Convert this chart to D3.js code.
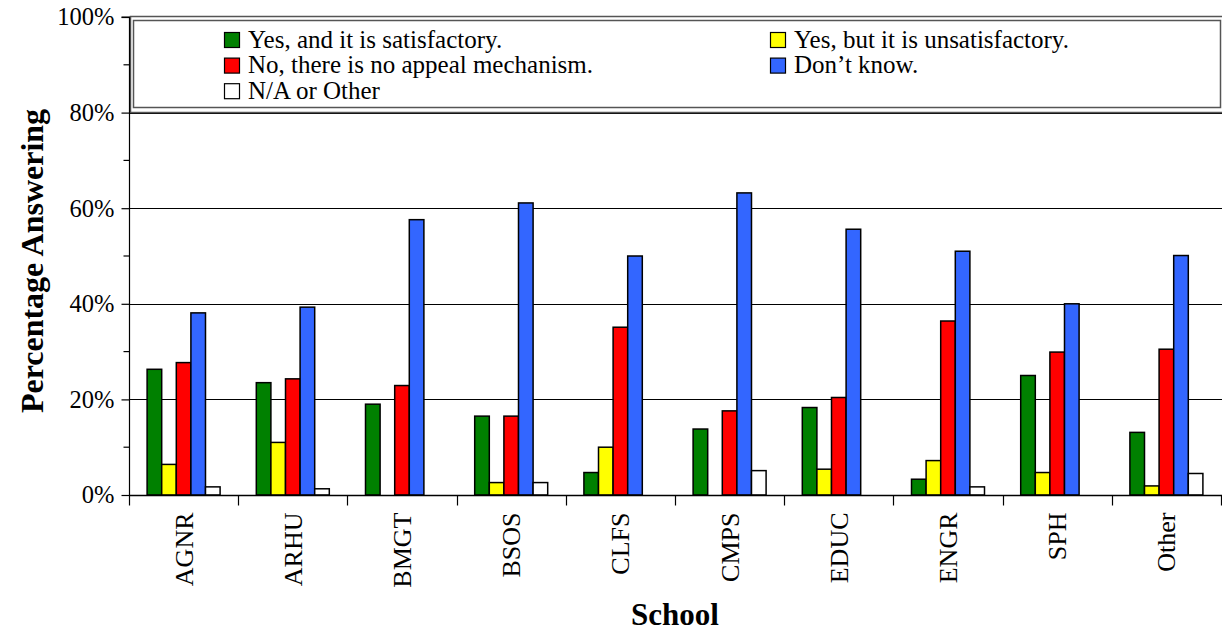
<!DOCTYPE html>
<html><head><meta charset="utf-8">
<script src="https://cdn.jsdelivr.net/npm/d3@7"></script>
<style>body{margin:0;background:#fff}svg{display:block}</style>
</head><body><svg id="c" width="1222" height="632"></svg>
<script>
const schools = ["AGNR","ARHU","BMGT","BSOS","CLFS","CMPS","EDUC","ENGR","SPH","Other"];
const seriesNames = ["Yes, and it is satisfactory.","Yes, but it is unsatisfactory.","No, there is no appeal mechanism.","Don\u2019t know.","N/A or Other"];
const seriesColors = ["#008000","#FFFF00","#FF0000","#3366FF","#FFFFFF"];
const yesSatisfactory   = [26.3,23.5,19.0,16.5, 4.7,13.8,18.3, 3.3,25.0,13.1];
const yesUnsatisfactory = [ 6.4,11.0, 0.0, 2.6,10.0, 0.0, 5.4, 7.2, 4.7, 1.9];
const noMechanism       = [27.7,24.3,22.9,16.5,35.1,17.6,20.4,36.4,29.9,30.5];
const dontKnow          = [38.1,39.3,57.6,61.1,50.0,63.2,55.6,51.0,40.0,50.1];
const naOther           = [ 1.7, 1.3, 0.0, 2.6, 0.0, 5.1, 0.0, 1.7, 0.0, 4.5];
const yTicks = [0,20,40,60,80,100];
const yMinor = [10,30,50,70,90];
const seriesValues = [yesSatisfactory,yesUnsatisfactory,noMechanism,dontKnow,naOther];

const FONT = "'Liberation Serif', 'Times New Roman', Times, serif";
const svg = d3.select("#c");
const L = 129, R = 1221, T = 17, B = 495;
const x = d3.scaleBand().domain(schools).range([L, R]).paddingInner(0).paddingOuter(0);
const x1 = d3.scaleBand().domain(d3.range(5)).range([0, x.bandwidth()]).paddingInner(0).paddingOuter(1.24);
const y = d3.scaleLinear().domain([0,100]).range([B, T]);

// gridlines
svg.append("g").selectAll("line").data(yTicks.filter(v=>v>0 && v<100)).join("line")
  .attr("x1", L).attr("x2", R+1).attr("y1", d=>Math.round(y(d))+0.5).attr("y2", d=>Math.round(y(d))+0.5)
  .attr("stroke","#000").attr("stroke-width",1);

// legend box (double line)
const lg = svg.append("g");
lg.append("rect").attr("x",130.5).attr("y",16.5).attr("width",1095).attr("height",96).attr("fill","#fff").attr("stroke","#555").attr("stroke-width",1.5);
lg.append("rect").attr("x",133.5).attr("y",20.5).attr("width",1087).attr("height",87).attr("fill","#fff").attr("stroke","#555").attr("stroke-width",1.5);
const legPos = [[224,0],[770,0],[224,1],[770,1],[224,2]];
[0,1,2,3,4].forEach((s,i)=>{
  const [lx,row] = legPos[i];
  const ly = 32 + row*25.6;
  lg.append("rect").attr("x",lx+0.5).attr("y",ly+0.5).attr("width",15).attr("height",15)
    .attr("fill",seriesColors[s]).attr("stroke","#000").attr("stroke-width",1.2);
  lg.append("text").attr("x",lx+24).attr("y",ly+15.5).style("font-family",FONT).style("font-size","25px").text(seriesNames[s]);
});

// bars
const data = [];
schools.forEach((c,i)=>seriesValues.forEach((arr,s)=>{ if(arr[i]>0) data.push({c,s,v:arr[i]}); }));
svg.append("g").selectAll("rect").data(data).join("rect")
  .attr("x", d=>x(d.c)+x1(d.s)).attr("width", x1.bandwidth())
  .attr("y", d=>y(d.v)).attr("height", d=>B - y(d.v))
  .attr("fill", d=>seriesColors[d.s]).attr("stroke","#000").attr("stroke-width",1.5);

// y axis
const ya = svg.append("g").attr("transform",`translate(${L+0.5},0)`)
  .call(d3.axisLeft(y).tickValues(yTicks).tickFormat(d=>d+"%").tickSize(8).tickPadding(7));
ya.select(".domain").attr("stroke","#000").attr("stroke-width",1.2).attr("d",`M-8,${T}H0V${B}`);
ya.selectAll(".tick line").attr("stroke","#000").attr("stroke-width",1.2);
ya.selectAll(".tick text").style("font-family",FONT).style("font-size","24.5px").attr("fill","#000");
ya.selectAll(".minor").data(yMinor).join("line").attr("class","minor")
  .attr("x1",-6).attr("x2",0).attr("y1",d=>y(d)).attr("y2",d=>y(d)).attr("stroke","#000").attr("stroke-width",1.2);

// x axis
const xa = svg.append("g").attr("transform",`translate(0,${B+0.5})`);
xa.append("line").attr("x1",L).attr("x2",R+1).attr("stroke","#000").attr("stroke-width",1.5);
const bounds = schools.map(c=>x(c)).concat([R]);
xa.selectAll(".tk").data(bounds).join("line").attr("class","tk")
  .attr("x1",d=>Math.round(d)+0.5).attr("x2",d=>Math.round(d)+0.5).attr("y1",0).attr("y2",10).attr("stroke","#000").attr("stroke-width",1.2);
xa.selectAll(".lbl").data(schools).join("text").attr("class","lbl")
  .attr("transform",d=>`translate(${x(d)+x.bandwidth()/2+9},17) rotate(-90)`)
  .attr("text-anchor","end").style("font-family",FONT).style("font-size","26px").text(d=>d);

// titles
svg.append("text").attr("x",(L+R)/2).attr("y",625).attr("text-anchor","middle")
  .style("font-family",FONT).style("font-weight","bold").style("font-size","31px").text("School");
svg.append("text").attr("transform","translate(43,261) rotate(-90)").attr("text-anchor","middle")
  .style("font-family",FONT).style("font-weight","bold").style("font-size","32px").text("Percentage Answering");
</script></body></html>
